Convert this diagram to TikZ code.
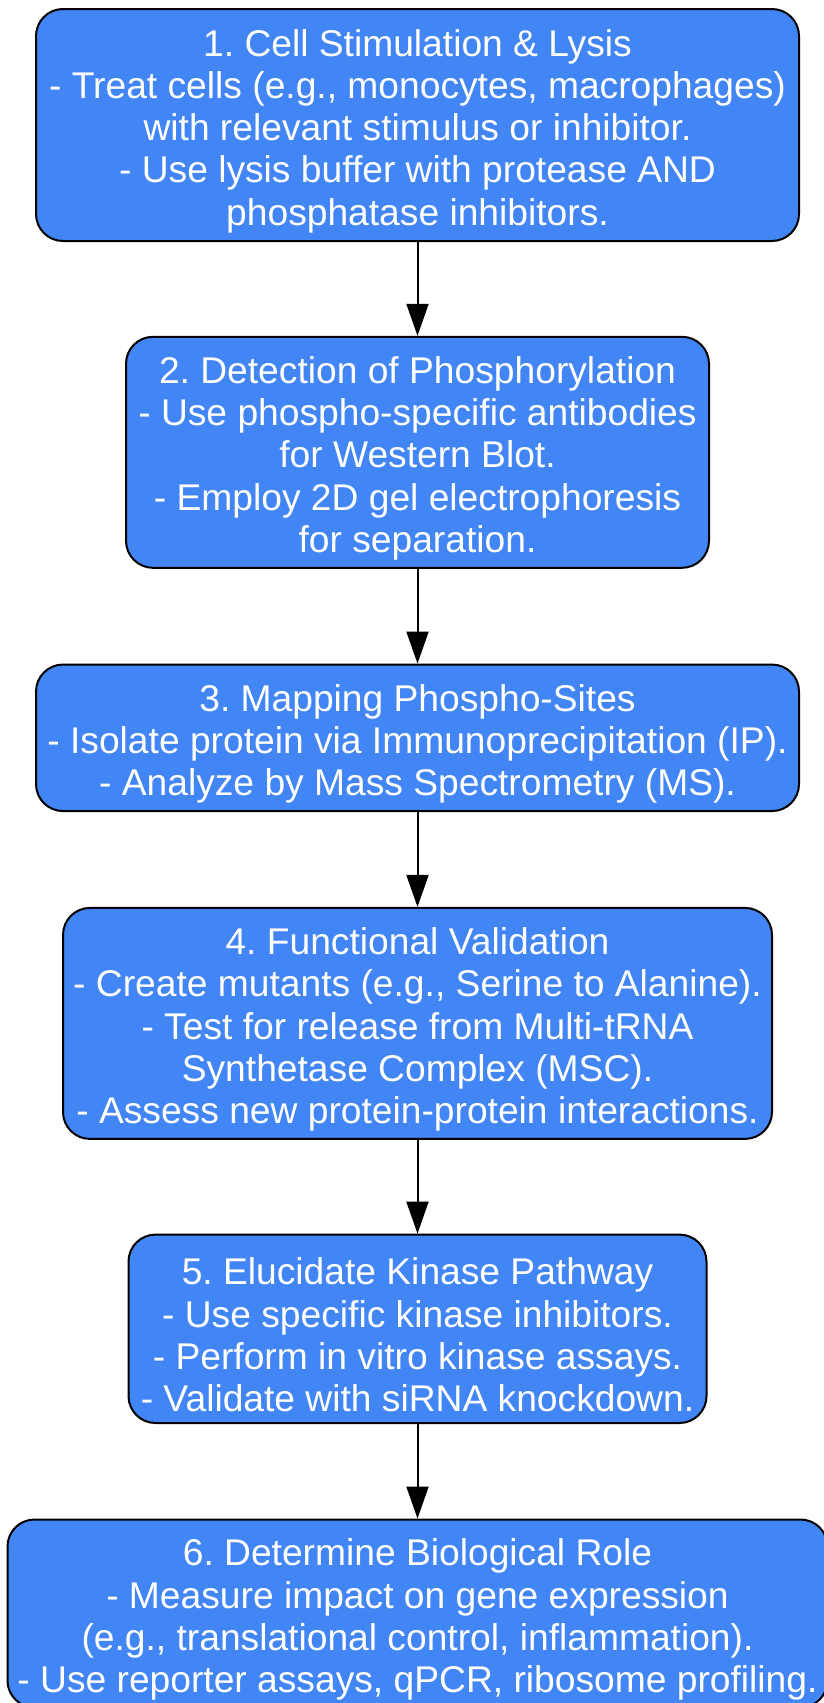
\documentclass[tikz,border=0pt]{standalone}
\usepackage{fontspec}
\setmainfont{Liberation Sans}
\usetikzlibrary{arrows.meta}
\definecolor{boxblue}{HTML}{4285F4}
\frenchspacing
\begin{document}
\begin{tikzpicture}[x=1pt,y=-1pt,
  stepbox/.style={draw=black, line width=2pt, fill=boxblue, rounded corners=27pt,
    inner sep=0pt},
  steptext/.style={text=white, align=center, inner sep=0pt, font=\fontsize{37.2}{42.2}\selectfont},
  flow/.style={draw=black, line width=2pt, -{Triangle[length=32pt,width=22pt]}}]
\useasboundingbox (0,0) rectangle (823,1703);
\node[stepbox, minimum width=763pt, minimum height=232pt] (b1) at (417.5,125) {};
\node[steptext] (t1) at ([yshift=-6pt]b1.center)
  {1. Cell Stimulation \& Lysis\\- Treat cells (e.g., monocytes, macrophages)\\with relevant stimulus or inhibitor.\\- Use lysis buffer with protease AND\\phosphatase inhibitors.};
\node[stepbox, minimum width=583pt, minimum height=231pt] (b2) at (417.5,452.3) {};
\node[steptext] (t2) at ([yshift=-6pt]b2.center)
  {2. Detection of Phosphorylation\\- Use phospho-specific antibodies\\for Western Blot.\\- Employ 2D gel electrophoresis\\for separation.};
\node[stepbox, minimum width=763pt, minimum height=146.5pt] (b3) at (417.5,737.8) {};
\node[steptext] (t3) at ([yshift=-6pt]b3.center)
  {3. Mapping Phospho-Sites\\- Isolate protein via Immunoprecipitation (IP).\\- Analyze by Mass Spectrometry (MS).};
\node[stepbox, minimum width=709pt, minimum height=231pt] (b4) at (417.5,1023.4) {};
\node[steptext] (t4) at ([yshift=-6pt]b4.center)
  {4. Functional Validation\\- Create mutants (e.g., Serine to Alanine).\\- Test for release from Multi-tRNA\\Synthetase Complex (MSC).\\- Assess new protein-protein interactions.};
\node[stepbox, minimum width=578pt, minimum height=188.4pt] (b5) at (417.5,1328.8) {};
\node[steptext] (t5) at ([yshift=-6pt]b5.center)
  {5. Elucidate Kinase Pathway\\- Use specific kinase inhibitors.\\- Perform in vitro kinase assays.\\- Validate with siRNA knockdown.};
\node[stepbox, minimum width=820pt, minimum height=188pt] (b6) at (417.5,1613.5) {};
\node[steptext] (t6) at ([yshift=-6pt]b6.center)
  {6. Determine Biological Role\\- Measure impact on gene expression\\(e.g., translational control, inflammation).\\- Use reporter assays, qPCR, ribosome profiling.};
\draw[flow] (b1.south) -- (b2.north);
\draw[flow] (b2.south) -- (b3.north);
\draw[flow] (b3.south) -- (b4.north);
\draw[flow] (b4.south) -- (b5.north);
\draw[flow] (b5.south) -- (b6.north);
\end{tikzpicture}
\end{document}
